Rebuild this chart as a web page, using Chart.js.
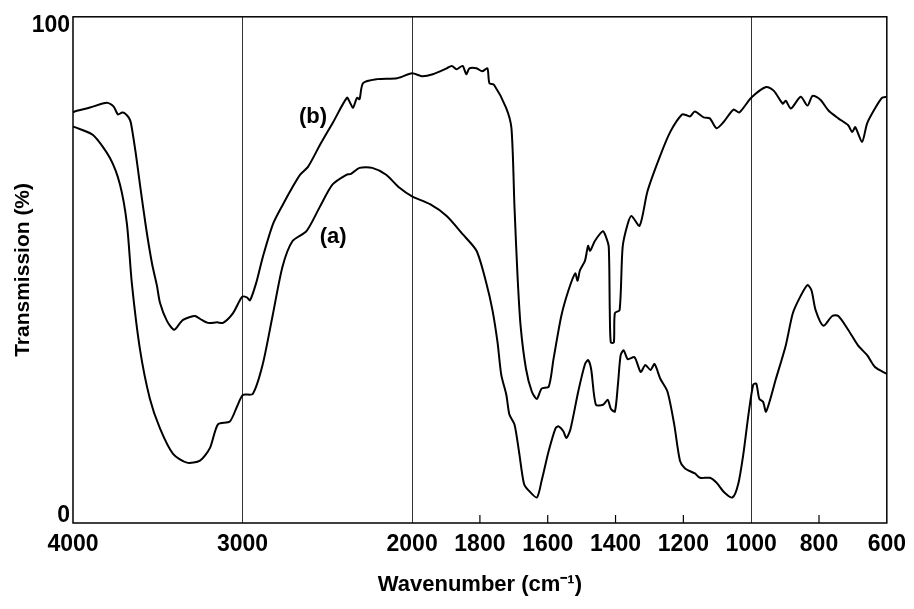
<!DOCTYPE html>
<html>
<head>
<meta charset="utf-8">
<script src="https://cdn.jsdelivr.net/npm/chart.js@4.4.1/dist/chart.umd.min.js"></script>
<style>
  html, body { margin: 0; padding: 0; background: #fff; }
  #wrap { width: 914px; height: 609px; }
</style>
</head>
<body>
<div id="wrap"><canvas id="ir"></canvas></div>
<script>
// wavenumber (cm-1) and transmission (%)
const waveB = [4000, 3990, 3900, 3800, 3760, 3735, 3710, 3693, 3670, 3658, 3630, 3605, 3570, 3534, 3505, 3487, 3446, 3404, 3370, 3351, 3310, 3280, 3240, 3203, 3150, 3115, 3056, 3003, 2975, 2956, 2920, 2880, 2820, 2761, 2700, 2661, 2614, 2543, 2466, 2384, 2366, 2348, 2325, 2310, 2289, 2206, 2088, 2000, 1971, 1939, 1898, 1883, 1869, 1851, 1840, 1831, 1810, 1793, 1778, 1772, 1758, 1723, 1707, 1698, 1689, 1680, 1664, 1647, 1632, 1618, 1597, 1583, 1560, 1539, 1519, 1512, 1505, 1490, 1481, 1475, 1461, 1437, 1428, 1420, 1417, 1414, 1405, 1402, 1388, 1379, 1364, 1353, 1329, 1306, 1271, 1239, 1204, 1189, 1180, 1166, 1140, 1122, 1102, 1082, 1052, 1035, 1000, 956, 933, 907, 898, 883, 854, 834, 819, 796, 772, 743, 714, 702, 693, 673, 658, 635, 614, 600];
const transB = [82.3, 82.5, 83.3, 84.3, 83.5, 81.9, 82.3, 82.1, 81.2, 80.1, 74, 67.6, 59, 51.5, 47, 43.5, 39.8, 38, 39.3, 40, 40.6, 40.8, 40, 39.4, 39.5, 39.4, 41.4, 44.7, 44.6, 44, 47.5, 52.9, 59.6, 63.6, 67.4, 69.6, 71.2, 75.7, 80.3, 85.3, 84.3, 83.3, 85.3, 85, 88.3, 89.1, 89.3, 90.3, 89.7, 90.1, 91.3, 91.8, 91.1, 91.8, 90.1, 91.3, 91.3, 90.7, 91.3, 88.3, 87.9, 83.3, 79.1, 63, 48.9, 38.8, 30, 25.4, 23.9, 26, 26.4, 32, 40.8, 46, 49.5, 48, 50.1, 52.1, 55.1, 54.1, 56.1, 58.1, 56.9, 54.9, 42, 35.4, 35.4, 41.4, 42, 54.9, 59.6, 61.2, 59.2, 66.2, 73, 78.3, 81.9, 81.7, 81.5, 82.5, 81.3, 81.1, 79.1, 80.3, 82.9, 82.3, 85.3, 87.5, 86.7, 84.1, 84.7, 83.1, 85.5, 83.7, 85.7, 84.9, 82.7, 81.1, 79.7, 78.3, 79.3, 76.3, 80.1, 83.1, 85.3, 85.5];

const waveA = [4000, 3990, 3882, 3782, 3723, 3682, 3653, 3605, 3547, 3487, 3410, 3328, 3251, 3192, 3145, 3075, 3033, 2998, 2940, 2882, 2823, 2764, 2705, 2623, 2545, 2470, 2388, 2360, 2310, 2235, 2153, 2076, 2000, 1947, 1898, 1851, 1810, 1781, 1763, 1748, 1737, 1722, 1713, 1698, 1685, 1670, 1656, 1632, 1618, 1597, 1577, 1568, 1554, 1545, 1533, 1510, 1490, 1481, 1472, 1458, 1437, 1423, 1414, 1402, 1393, 1385, 1376, 1364, 1344, 1326, 1312, 1297, 1285, 1268, 1247, 1227, 1210, 1195, 1166, 1151, 1122, 1102, 1079, 1055, 1038, 1023, 1008, 994, 985, 976, 965, 956, 927, 898, 877, 854, 834, 822, 810, 787, 761, 743, 714, 685, 658, 635, 600];
const transA = [79.5, 79.3, 77.7, 73, 67.6, 59.6, 47.5, 34, 24, 17.9, 12.7, 10.9, 11.3, 13.9, 18.7, 19.3, 22.3, 24.7, 24.9, 30.8, 40.8, 50.9, 56.1, 58.1, 63, 67.6, 69.6, 69.8, 71, 71, 69.6, 67, 65.2, 63.6, 61.2, 57.5, 54.1, 47.5, 42, 35.4, 28.8, 24.7, 20.7, 18.7, 13.3, 6.6, 5.2, 3.8, 7.2, 13.3, 17.9, 18.3, 17.3, 15.9, 17.7, 25.4, 31, 31.8, 30, 22.7, 22.7, 23.7, 21.9, 21.3, 26.8, 32.8, 33.8, 32, 32.4, 29.4, 30.8, 29.8, 31, 28, 25.4, 18.7, 11.3, 9.7, 8.7, 7.8, 7.8, 6.8, 4.8, 3.8, 6.6, 12.7, 20.7, 26.8, 27, 23.9, 23.3, 21.3, 28, 34.8, 41.4, 44.9, 47.1, 46, 42, 38.8, 40.8, 40.8, 38, 34.8, 32.8, 30.4, 29];

const xTicks = [4000, 3000, 2000, 1800, 1600, 1400, 1200, 1000, 800, 600];
const xGridLines = [3000, 2000, 1000];
const yTicks = [0, 100];
const curveLabels = ["(b)", "(a)"];
const labelWave = [2584, 2466];
const labelTrans = [81.3, 57];

// the axis scale doubles below 2000 cm-1
function toU(w) {
  return w >= 2000 ? 4000 - w : 2000 + 2 * (2000 - w);
}
function fromU(u) {
  return u <= 2000 ? 4000 - u : 2000 - (u - 2000) / 2;
}

const pts = (ws, ts) => ws.map((w, i) => ({ x: toU(w), y: ts[i] }));

const framePlugin = {
  id: "frame",
  afterDraw(chart) {
    const { ctx, chartArea: a, scales } = chart;
    ctx.save();
    ctx.strokeStyle = "#000";
    ctx.lineWidth = 1.5;
    ctx.strokeRect(a.left, a.top, a.right - a.left, a.bottom - a.top);
    // short inward ticks
    ctx.lineWidth = 1.2;
    xTicks.forEach(w => {
      if (xGridLines.includes(w) || w === 4000 || w === 600) return;
      const px = scales.x.getPixelForValue(toU(w));
      ctx.beginPath();
      ctx.moveTo(px, a.bottom);
      ctx.lineTo(px, a.bottom - 8);
      ctx.stroke();
    });
    ctx.fillStyle = "#000";
    ctx.font = "bold 22px 'Liberation Sans', Arial, sans-serif";
    ctx.textAlign = "center";
    ctx.textBaseline = "middle";
    curveLabels.forEach((t, i) => {
      ctx.fillText(t, scales.x.getPixelForValue(toU(labelWave[i])), scales.y.getPixelForValue(labelTrans[i]));
    });
    ctx.restore();
  }
};

const font = "'Liberation Sans', Arial, sans-serif";

new Chart(document.getElementById("ir"), {
  type: "line",
  data: {
    datasets: [
      { label: "b", data: pts(waveB, transB) },
      { label: "a", data: pts(waveA, transA) }
    ]
  },
  options: {
    responsive: true,
    maintainAspectRatio: false,
    animation: false,
    layout: { padding: { top: 10, right: 22, left: 0, bottom: 0 } },
    elements: {
      line: { borderColor: "#000", borderWidth: 2, tension: 0.25, fill: false },
      point: { radius: 0 }
    },
    plugins: { legend: { display: false }, tooltip: { enabled: false } },
    scales: {
      x: {
        type: "linear",
        min: 0,
        max: 4800,
        afterBuildTicks: s => { s.ticks = xTicks.map(w => ({ value: toU(w) })); },
        afterFit: s => { s.height = 86; },
        border: { display: false },
        grid: {
          drawTicks: false,
          lineWidth: 1,
          color: c => (c.tick && xGridLines.includes(Math.round(fromU(c.tick.value)))) ? "#333" : "rgba(0,0,0,0)"
        },
        ticks: {
          padding: 8,
          color: "#000",
          font: { family: font, size: 23, weight: "bold" },
          maxRotation: 0,
          autoSkip: false,
          callback: v => String(Math.round(fromU(v)))
        },
        title: {
          display: true,
          text: "Wavenumber (cm⁻¹)",
          color: "#000",
          font: { family: font, size: 22, weight: "bold" },
          padding: { top: 0, bottom: 11 }
        }
      },
      y: {
        min: -1.41,
        max: 101.81,
        afterBuildTicks: s => { s.ticks = yTicks.map(v => ({ value: v })); },
        afterFit: s => { s.width = 73; },
        border: { display: false },
        grid: { display: false, drawTicks: false },
        ticks: {
          padding: 3,
          color: "#000",
          font: { family: font, size: 23, weight: "bold" }
        },
        title: {
          display: true,
          text: "Transmission (%)",
          color: "#000",
          font: { family: font, size: 21, weight: "bold" },
          padding: { top: 11, bottom: 0 }
        }
      }
    }
  },
  plugins: [framePlugin]
});
</script>
</body>
</html>
